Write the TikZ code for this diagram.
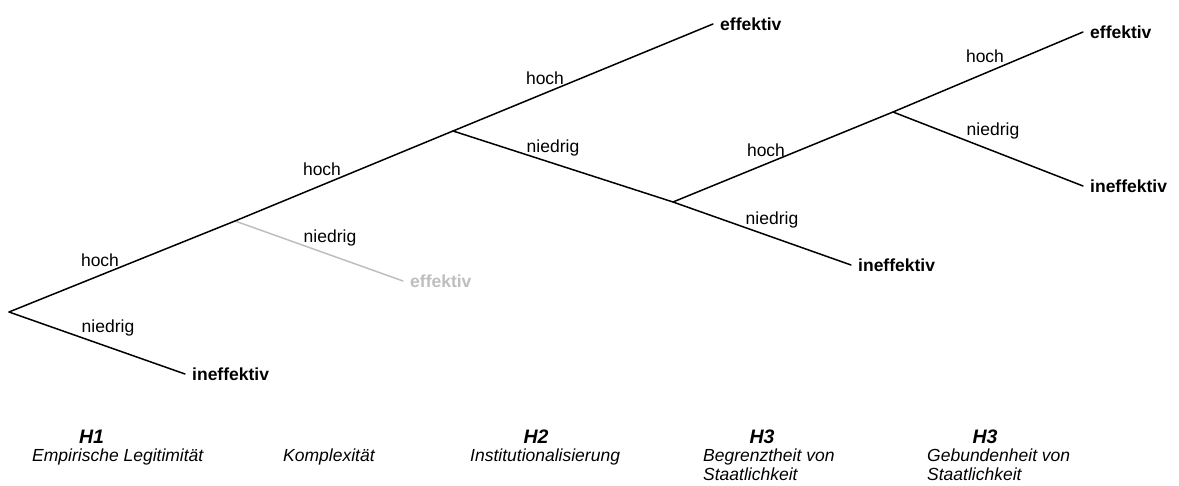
\documentclass[tikz,border=0pt]{standalone}
\usepackage{fontspec}
\setmainfont{Liberation Sans}
\usepackage{tikz}

\definecolor{hellgrau}{RGB}{190,190,190}

\begin{document}
\begin{tikzpicture}[x=1pt,y=-1pt,line cap=round,line join=round,
  every node/.style={font=\fontsize{17.5}{19}\selectfont,inner sep=0pt},
  ast/.style={line width=1.5pt,black},
  grauast/.style={line width=1.5pt,hellgrau},
  blatt/.style={font=\fontsize{17.5}{19}\selectfont\bfseries,anchor=west,inner xsep=7pt},
  zweig/.style={},
  hyp/.style={font=\fontsize{19.5}{21}\selectfont\bfseries\itshape,anchor=base},
  var/.style={font=\fontsize{17.5}{19}\selectfont\itshape,anchor=north west,align=left}]
\useasboundingbox (0,0) rectangle (1179,486);
\coordinate (W) at (9,312);
\coordinate (A) at (235,221);
\coordinate (B) at (453,131);
\coordinate (C) at (673,202);
\coordinate (D) at (893,112);
\node[blatt] (E1) at (713,24) {effektiv};
\node[blatt] (E2) at (1083,32) {effektiv};
\node[blatt] (I2) at (1083,186) {ineffektiv};
\node[blatt] (I1) at (851,265) {ineffektiv};
\node[blatt] (I0) at (185,374) {ineffektiv};
\node[blatt,text=hellgrau] (G) at (403,281) {effektiv};
\draw[grauast] (A) -- (G.west);
\draw[ast] (W) -- (A) -- (B) -- (E1.west);
\draw[ast] (B) -- (C) -- (I1.west);
\draw[ast] (C) -- (D) -- (E2.west);
\draw[ast] (D) -- (I2.west);
\draw[ast] (W) -- (I0.west);
\node[zweig] (h0) at (100,260) {hoch};
\node[zweig] (n0) at (108,328) {niedrig};
\node[zweig] (h1) at (322,169) {hoch};
\node[zweig] (n1) at (330,238) {niedrig};
\node[zweig] (h2) at (545,78) {hoch};
\node[zweig] (n2) at (553,148) {niedrig};
\node[zweig] (h3) at (766,150) {hoch};
\node[zweig] (n3) at (772,220) {niedrig};
\node[zweig] (h4) at (985,56) {hoch};
\node[zweig] (n4) at (993,131) {niedrig};
\node[hyp] (H1) at (91.5,443) {H1};
\node[hyp] (H2) at (536,443) {H2};
\node[hyp] (H3a) at (762,443) {H3};
\node[hyp] (H3b) at (985,443) {H3};
\node[var] (v1) at (32,449) {Empirische Legitimität};
\node[var] (v2) at (283,449) {Komplexität};
\node[var] (v3) at (470,449) {Institutionalisierung};
\node[var] (v4) at (703,449) {Begrenztheit von\\Staatlichkeit};
\node[var] (v5) at (927,449) {Gebundenheit von\\Staatlichkeit};
\end{tikzpicture}
\end{document}
